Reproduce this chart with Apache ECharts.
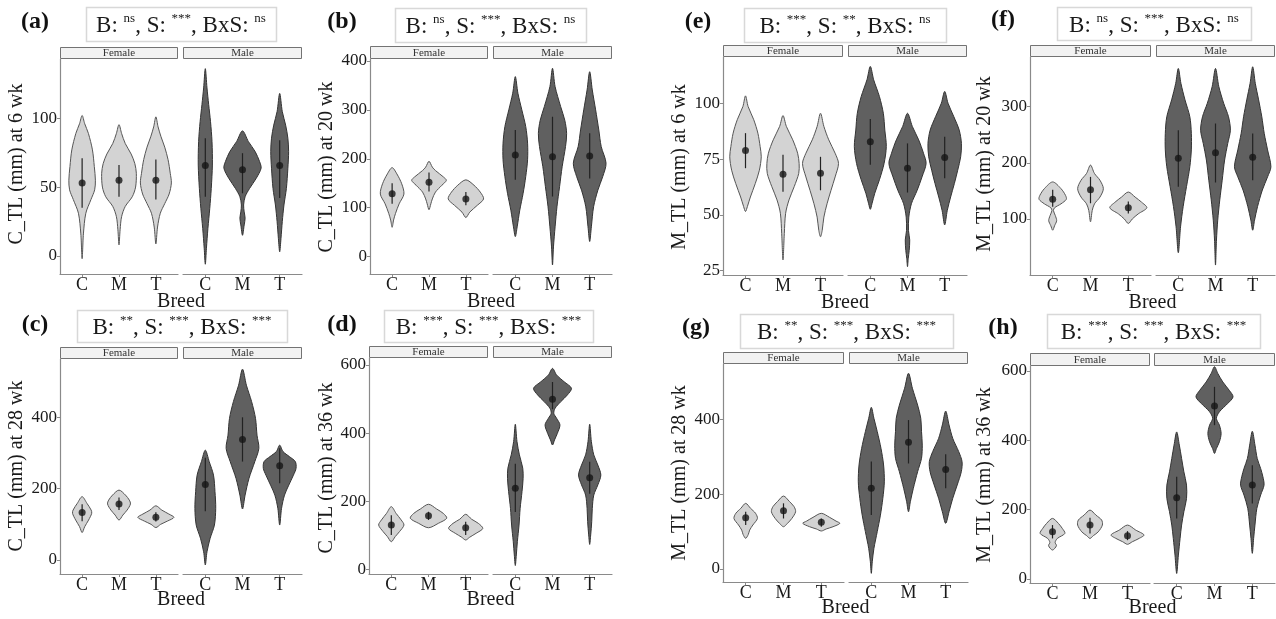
<!DOCTYPE html>
<html>
<head>
<meta charset="utf-8">
<script src="https://cdn.jsdelivr.net/npm/echarts@6/dist/echarts.min.js"></script>
<style>
  html, body { margin: 0; padding: 0; background: #fff; }
  #main { width: 1276px; height: 619px; }
</style>
</head>
<body>
<div id="main"></div>
<script>
// ---- data ----
const breeds = ['C', 'M', 'T'];
const sexes = ['Female', 'Male'];

// violin outlines: [value, half width as share of one category step], from bottom tip to top tip
// (a) C_TL 6 wk
const ticksA = [0, 50, 100];
const rangeA = [-13.1, 143];
const violinA_F = [
  [[-2,0],[16,0.035],[31,0.1],[41,0.24],[48,0.34],[55,0.36],[65,0.33],[77,0.28],[89,0.17],[96,0.07],[102,0]],
  [[8,0],[19,0.03],[28.5,0.07],[36,0.17],[43,0.36],[50,0.45],[60,0.47],[67,0.43],[74,0.33],[81.6,0.17],[89,0.07],[95.4,0]],
  [[8.7,0],[21,0.045],[31,0.12],[38,0.24],[45,0.36],[53,0.42],[60,0.39],[70,0.33],[79,0.24],[86.5,0.14],[93.7,0.06],[101,0]]
];
const violinA_M = [
  [[-6,0],[5.6,0.03],[20,0.07],[34.6,0.12],[49,0.16],[66,0.19],[83,0.18],[97.5,0.14],[110,0.09],[122,0.045],[136,0]],
  [[15,0],[22.5,0.045],[27.4,0.07],[32,0.045],[37,0.03],[43,0.07],[49,0.19],[56.4,0.37],[63.7,0.5],[68.5,0.46],[75.8,0.34],[83,0.16],[90.8,0]],
  [[3,0],[12.8,0.035],[25,0.07],[37,0.115],[49,0.18],[63.7,0.22],[75.7,0.24],[85.5,0.22],[95,0.16],[104.8,0.07],[118,0]]
];
const meanA_F = [53, 55, 55];
const meanA_M = [65.6, 62.5, 65.6];
const barA_F = [[35, 71], [43, 66], [41, 70]];
const barA_M = [[43, 85.5], [45.5, 74.6], [42, 84]];

// (b) C_TL 20 wk
const ticksB = [0, 100, 200, 300, 400];
const rangeB = [-35.4, 404];
const violinB_F = [
  [[60,0],[75,0.04],[88,0.09],[108,0.19],[128,0.32],[149,0.26],[169,0.13],[182,0]],
  [[96,0],[108,0.05],[118,0.09],[132,0.175],[146,0.35],[156,0.47],[163,0.39],[176,0.175],[183,0.09],[195,0]],
  [[80,0],[91,0.105],[105,0.31],[118,0.48],[132,0.39],[146,0.22],[157,0]]
];
const violinB_M = [
  [[41,0],[61,0.05],[95,0.12],[129.5,0.21],[163.5,0.28],[198,0.33],[232,0.33],[266,0.28],[300,0.175],[334,0.07],[368,0]],
  [[-17,0],[20,0.026],[61,0.07],[102,0.12],[143,0.19],[184,0.26],[225,0.35],[252,0.38],[279,0.33],[306.6,0.22],[347.5,0.07],[385,0]],
  [[31,0],[61,0.045],[102,0.105],[136,0.22],[163.5,0.35],[191,0.44],[225,0.31],[259,0.245],[300,0.16],[340.7,0.07],[378,0]]
];
const meanB_F = [128.6, 152.3, 118];
const meanB_M = [208, 204, 206];
const barB_F = [[108, 150], [133, 172], [105, 132]];
const barB_M = [[157, 259], [123, 286], [160, 252]];

// (c) C_TL 28 wk
const ticksC = [0, 200, 400];
const rangeC = [-39.2, 563.5];
const violinC_F = [
  [[77,0],[93.5,0.07],[112,0.175],[131,0.26],[140,0.245],[159,0.13],[177.6,0]],
  [[112,0],[126,0.105],[140,0.22],[157,0.31],[168,0.28],[182,0.175],[196,0]],
  [[91,0],[100,0.13],[109,0.31],[119.6,0.49],[129,0.35],[140,0.16],[152,0]]
];
const violinC_M = [
  [[-14,0],[23,0.045],[61,0.13],[98,0.245],[145,0.28],[191.6,0.26],[238,0.22],[275.7,0.105],[308,0]],
  [[143,0],[182,0.07],[229,0.175],[275.7,0.33],[313,0.44],[350,0.39],[397,0.35],[444,0.245],[490,0.105],[535,0]],
  [[98,0],[145,0.05],[182,0.13],[210,0.245],[238,0.37],[257,0.44],[276,0.42],[290,0.26],[304,0.09],[322,0]]
];
const meanC_F = [133, 157, 120];
const meanC_M = [212, 338, 264.5];
const barC_F = [[109, 156], [140, 175], [108, 134]];
const barC_M = [[137, 287], [276, 400], [215, 313]];

// (d) C_TL 36 wk
const ticksD = [0, 200, 400, 600];
const rangeD = [-13.8, 620.5];
const violinD_F = [
  [[81,0],[96,0.105],[110.6,0.22],[130,0.34],[145,0.265],[164,0.13],[184,0]],
  [[122,0],[135,0.265],[150,0.49],[164,0.4],[177,0.22],[191,0]],
  [[86,0],[94,0.105],[105.7,0.28],[120,0.46],[135,0.34],[147,0.16],[161.5,0]]
];
const violinD_M = [
  [[11,0],[42,0.027],[81,0.055],[130,0.1],[179,0.13],[228,0.18],[267,0.21],[297,0.2],[336,0.11],[375,0.045],[426,0]],
  [[365,0],[380,0.055],[399,0.13],[424,0.2],[443.5,0.11],[458,0.035],[473,0.07],[492,0.22],[512,0.4],[531.6,0.51],[551,0.31],[570.6,0.11],[590,0]],
  [[73,0],[101,0.027],[140,0.055],[179,0.07],[218,0.11],[248,0.22],[277,0.3],[306,0.22],[336,0.11],[375,0.045],[426,0]]
];
const meanD_F = [130, 157.6, 122];
const meanD_M = [238, 499, 269];
const barD_F = [[101, 159], [145, 169], [101, 140]];
const barD_M = [[168, 310], [470, 550], [222, 316]];

// (e) M_TL 6 wk
const ticksE = [25, 50, 75, 100];
const rangeE = [23.07, 120.7];
const violinE_F = [
  [[51.5,0],[53.7,0.05],[58,0.13],[64,0.26],[70,0.37],[76,0.42],[80.6,0.39],[86.6,0.33],[92.6,0.22],[98.5,0.07],[103.3,0]],
  [[29.8,0],[41.7,0.035],[50.7,0.07],[56.7,0.16],[62.7,0.3],[68.6,0.42],[73,0.43],[77.6,0.39],[83.6,0.26],[89.6,0.09],[94.5,0]],
  [[40.2,0],[43,0.045],[49,0.09],[55,0.175],[61,0.28],[67,0.39],[73,0.48],[77.6,0.39],[83.6,0.22],[89.6,0.09],[95.5,0]]
];
const violinE_M = [
  [[52.5,0],[55,0.045],[59.7,0.12],[65.7,0.245],[73,0.37],[80.6,0.43],[88,0.39],[95.5,0.35],[103,0.245],[110.5,0.09],[116.5,0]],
  [[26.8,0],[30.5,0.02],[34,0.045],[38.8,0.06],[43,0.026],[49,0.035],[55,0.105],[61,0.26],[67,0.39],[73,0.5],[77.6,0.43],[83.6,0.3],[89.6,0.13],[95.5,0]],
  [[45.5,0],[52,0.07],[58,0.16],[64,0.26],[70,0.35],[76,0.43],[82,0.45],[88,0.39],[94,0.245],[100,0.09],[105.3,0]]
];
const meanE_F = [78.8, 68.2, 68.6];
const meanE_M = [82.8, 70.9, 75.7];
const barE_F = [[70.9, 86.6], [60.4, 76.9], [61, 76]];
const barE_M = [[72.4, 92.9], [60, 82], [66.4, 85]];

// (f) M_TL 20 wk
const ticksF = [100, 200, 300];
const rangeF = [0.3, 388.4];
const violinF_F = [
  [[80,0],[88,0.05],[97,0.105],[106,0.07],[115,0.02],[120,0.05],[127,0.22],[135,0.36],[142,0.34],[154,0.22],[166,0]],
  [[95,0],[115,0.045],[127,0.105],[139,0.25],[154,0.34],[169,0.25],[181,0.105],[196,0]],
  [[92,0],[100,0.105],[109,0.26],[120,0.49],[130,0.35],[139,0.18],[148,0]]
];
const violinF_M = [
  [[40,0],[86,0.06],[122,0.13],[157.6,0.22],[193,0.31],[223,0.35],[252.5,0.35],[282,0.31],[312,0.18],[341.5,0.07],[368,0]],
  [[18,0],[62.6,0.026],[98,0.06],[134,0.115],[169,0.18],[205,0.245],[234.7,0.33],[258,0.4],[282,0.35],[306,0.22],[335.6,0.09],[368,0]],
  [[80,0],[98,0.05],[122,0.13],[151.6,0.26],[175,0.4],[193,0.49],[223,0.4],[252.5,0.31],[282,0.245],[312,0.16],[341.5,0.07],[371,0]]
];
const meanF_F = [135, 152, 120];
const meanF_M = [208, 218, 210];
const barF_F = [[122, 152], [128, 175], [110, 131]];
const barF_M = [[157.6, 258], [165, 270], [169, 252]];

// (g) M_TL 28 wk
const ticksG = [0, 200, 400];
const rangeG = [-34.7, 547.8];
const violinG_F = [
  [[82,0],[92.6,0.07],[104,0.105],[117.6,0.19],[135,0.31],[149,0.26],[162,0.13],[175.5,0]],
  [[113,0],[122,0.105],[135,0.22],[153,0.32],[166.6,0.28],[180,0.16],[195,0]],
  [[101.6,0],[107,0.13],[113,0.31],[122,0.49],[128,0.39],[138,0.22],[148.8,0]]
];
const violinG_M = [
  [[-11.6,0],[19.6,0.026],[55,0.07],[100,0.16],[144,0.245],[189,0.31],[233,0.35],[278,0.33],[322.5,0.26],[367,0.16],[402.7,0.07],[432,0]],
  [[153,0],[180,0.05],[215.6,0.13],[260,0.245],[296,0.35],[331,0.37],[367,0.35],[402.7,0.33],[438,0.245],[483,0.105],[523,0]],
  [[122,0],[153,0.09],[189,0.19],[224.5,0.31],[260,0.42],[287,0.44],[313.6,0.35],[349,0.19],[385,0.09],[422,0]]
];
const meanG_F = [137, 156, 124.7];
const meanG_M = [215.6, 338.5, 266];
const barG_F = [[117.6, 153], [135, 175.5], [113, 135]];
const barG_M = [[144, 287], [282, 398], [215.6, 306.5]];

// (h) M_TL 36 wk
const ticksH = [0, 200, 400, 600];
const rangeH = [-11.5, 614];
const violinH_F = [
  [[83.5,0],[96,0.105],[105.6,0.07],[117,0.13],[131.5,0.33],[146,0.26],[160,0.16],[174.7,0]],
  [[117,0],[125,0.09],[136,0.22],[155.5,0.33],[170,0.31],[184,0.16],[198.7,0]],
  [[100,0],[107.5,0.13],[117,0.31],[127,0.44],[141,0.22],[155.5,0]]
];
const violinH_M = [
  [[16,0],[69,0.045],[117,0.09],[155.5,0.13],[194,0.19],[232,0.26],[270.7,0.26],[309,0.19],[347.5,0.13],[386,0.07],[424,0]],
  [[362,0],[376,0.05],[395.5,0.13],[419.5,0.175],[443.5,0.13],[463,0.05],[482,0.13],[506,0.35],[525,0.49],[544,0.39],[568,0.22],[592,0.09],[612,0]],
  [[74,0],[117,0.035],[155.5,0.07],[203.5,0.12],[242,0.22],[270.7,0.31],[294.7,0.28],[318.7,0.22],[347.5,0.13],[386,0.07],[426,0]]
];
const meanH_F = [136, 155.5, 124.8];
const meanH_M = [234, 499, 270.7];
const barH_F = [[117, 155.5], [131.5, 176.6], [112, 138]];
const barH_M = [[174.7, 294.7], [443.5, 554], [218, 328]];

// ---- panels: text + where they sit ----
const panels = [
  { tag: '(a)', ytitle: 'C_TL (mm) at 6 wk',  sig: ['ns', '***', 'ns'],  ticks: ticksA, range: rangeA,
    F: [violinA_F, meanA_F, barA_F], M: [violinA_M, meanA_M, barA_M],
    pos: { fL: 60, fR: 178, mL: 183, mR: 302, top: 59, bottom: 274, strip: 47,
           tag: [35, 22], box: [86, 7, 276, 41], yt: [17, 164], breedY: 302 } },
  { tag: '(b)', ytitle: 'C_TL (mm) at 20 wk', sig: ['ns', '***', 'ns'],  ticks: ticksB, range: rangeB,
    F: [violinB_F, meanB_F, barB_F], M: [violinB_M, meanB_M, barB_M],
    pos: { fL: 370, fR: 488, mL: 493, mR: 612, top: 59, bottom: 274, strip: 46,
           tag: [342, 22], box: [395, 8, 586, 42], yt: [327, 167], breedY: 302 } },
  { tag: '(c)', ytitle: 'C_TL (mm) at 28 wk', sig: ['**', '***', '***'], ticks: ticksC, range: rangeC,
    F: [violinC_F, meanC_F, barC_F], M: [violinC_M, meanC_M, barC_M],
    pos: { fL: 60, fR: 178, mL: 183, mR: 302, top: 359, bottom: 574, strip: 347,
           tag: [35, 325], box: [77, 310, 287, 342], yt: [17, 466], breedY: 600 } },
  { tag: '(d)', ytitle: 'C_TL (mm) at 36 wk', sig: ['***', '***', '***'], ticks: ticksD, range: rangeD,
    F: [violinD_F, meanD_F, barD_F], M: [violinD_M, meanD_M, barD_M],
    pos: { fL: 369, fR: 488, mL: 493, mR: 612, top: 358, bottom: 574, strip: 346,
           tag: [342, 325], box: [384, 310, 593, 342], yt: [327, 468], breedY: 600 } },
  { tag: '(e)', ytitle: 'M_TL (mm) at 6 wk',  sig: ['***', '**', 'ns'],  ticks: ticksE, range: rangeE,
    F: [violinE_F, meanE_F, barE_F], M: [violinE_M, meanE_M, barE_M],
    pos: { fL: 723, fR: 843, mL: 848, mR: 967, top: 57, bottom: 275, strip: 45,
           tag: [698, 22], box: [744, 8, 946, 42], yt: [680, 167], breedY: 303 } },
  { tag: '(f)', ytitle: 'M_TL (mm) at 20 wk', sig: ['ns', '***', 'ns'],  ticks: ticksF, range: rangeF,
    F: [violinF_F, meanF_F, barF_F], M: [violinF_M, meanF_M, barF_M],
    pos: { fL: 1030, fR: 1151, mL: 1156, mR: 1275, top: 57, bottom: 275, strip: 45,
           tag: [1003, 20], box: [1057, 7, 1251, 40], yt: [985, 164], breedY: 303 } },
  { tag: '(g)', ytitle: 'M_TL (mm) at 28 wk', sig: ['**', '***', '***'], ticks: ticksG, range: rangeG,
    F: [violinG_F, meanG_F, barG_F], M: [violinG_M, meanG_M, barG_M],
    pos: { fL: 723, fR: 844, mL: 849, mR: 968, top: 364, bottom: 582, strip: 352,
           tag: [696, 328], box: [740, 314, 953, 348], yt: [680, 473], breedY: 608 } },
  { tag: '(h)', ytitle: 'M_TL (mm) at 36 wk', sig: ['***', '***', '***'], ticks: ticksH, range: rangeH,
    F: [violinH_F, meanH_F, barH_F], M: [violinH_M, meanH_M, barH_M],
    pos: { fL: 1030, fR: 1150, mL: 1154, mR: 1275, top: 366, bottom: 583, strip: 353,
           tag: [1003, 328], box: [1047, 314, 1260, 348], yt: [985, 475], breedY: 608 } }
];

const FONT = 'Liberation Serif';
const AXIS = '#8a8a8a';
const TXT = '#1a1a1a';
const FILL = ['#d3d3d3', '#606060'];
const EDGE = ['#555555', '#333333'];

function violinItem(profiles, fill, edge) {
  return function (params, api) {
    const x = api.value(0);
    const prof = profiles[params.dataIndex];
    const step = api.size([1, 0])[0];
    const right = [], left = [];
    prof.forEach(function (p, k) {
      const c = api.coord([x, p[0]]);
      right.push([c[0] + p[1] * step, c[1]]);
      if (k > 0 && k < prof.length - 1) left.push([c[0] - p[1] * step, c[1]]);
    });
    return {
      type: 'polygon',
      shape: { points: right.concat(left.reverse()), smooth: 0.3 },
      style: { fill: fill, stroke: edge, lineWidth: 1 }
    };
  };
}

function barItem(params, api) {
  const a = api.coord([api.value(0), api.value(1)]);
  const b = api.coord([api.value(0), api.value(2)]);
  return {
    type: 'line',
    shape: { x1: a[0], y1: a[1], x2: b[0], y2: b[1] },
    style: { stroke: '#222', lineWidth: 1.2 }
  };
}

const option = { animation: false, grid: [], xAxis: [], yAxis: [], series: [], graphic: [] };

panels.forEach(function (p) {
  const P = p.pos;
  [p.F, p.M].forEach(function (d, k) {
    const gi = option.grid.length;
    const left = k ? P.mL : P.fL;
    const right = k ? P.mR : P.fR;
    option.grid.push({ left: left, top: P.top, width: right - left, height: P.bottom - P.top });
    option.xAxis.push({
      type: 'value', gridIndex: gi, min: 0.4, max: 3.6,
      splitLine: { show: false },
      axisLine: { onZero: false, lineStyle: { color: AXIS, width: 1.2 } },
      axisTick: { customValues: [1, 2, 3], length: 3, lineStyle: { color: AXIS } },
      axisLabel: { customValues: [1, 2, 3], formatter: function (v) { return breeds[Math.round(v) - 1]; },
                   fontFamily: FONT, fontSize: 18, color: TXT, margin: 2 }
    });
    option.yAxis.push({
      type: 'value', gridIndex: gi, min: p.range[0], max: p.range[1],
      splitLine: { show: false },
      axisLine: { show: !k, onZero: false, lineStyle: { color: AXIS, width: 1.2 } },
      axisTick: { show: !k, customValues: p.ticks, length: 3, lineStyle: { color: AXIS } },
      axisLabel: { show: !k, customValues: p.ticks, fontFamily: FONT, fontSize: 17, color: TXT, margin: 3 }
    });
    const violins = d[0], means = d[1], bars = d[2];
    option.series.push({
      type: 'custom', xAxisIndex: gi, yAxisIndex: gi, silent: true, z: 2,
      renderItem: violinItem(violins, FILL[k], EDGE[k]),
      data: means.map(function (m, i) { return [i + 1, m]; })
    });
    option.series.push({
      type: 'custom', xAxisIndex: gi, yAxisIndex: gi, silent: true, z: 3,
      renderItem: barItem,
      data: bars.map(function (b, i) { return [i + 1, b[0], b[1]]; })
    });
    option.series.push({
      type: 'scatter', xAxisIndex: gi, yAxisIndex: gi, silent: true, z: 4,
      symbolSize: 7, itemStyle: { color: '#151515' },
      data: means.map(function (m, i) { return [i + 1, m]; })
    });
    // facet strip
    option.graphic.push({
      type: 'rect', shape: { x: left + 0.5, y: P.strip + 0.5, width: right - left - 1, height: P.top - P.strip - 1 },
      style: { fill: '#f2f2f2', stroke: '#737373', lineWidth: 1 }
    });
    option.graphic.push({
      type: 'text', x: (left + right) / 2, y: (P.strip + P.top) / 2 + 0.5,
      style: { text: sexes[k], font: '11px "' + FONT + '"', fill: '#333', align: 'center', verticalAlign: 'middle' }
    });
  });
  // title box with significance marks
  const bx = P.box;
  option.graphic.push({
    type: 'rect', shape: { x: bx[0] + 0.5, y: bx[1] + 0.5, width: bx[2] - bx[0], height: bx[3] - bx[1] },
    style: { fill: '#fff', stroke: '#d8d8d8', lineWidth: 1.5 }
  });
  option.graphic.push({
    type: 'text', x: (bx[0] + bx[2]) / 2, y: (bx[1] + bx[3]) / 2 + 1,
    style: {
      text: '{n|B: }{s|' + p.sig[0] + '}{n|, S: }{s|' + p.sig[1] + '}{n|, BxS: }{s|' + p.sig[2] + '}',
      align: 'center', verticalAlign: 'middle',
      rich: {
        n: { fontFamily: FONT, fontSize: 23, fill: TXT, lineHeight: 25, verticalAlign: 'bottom' },
        s: { fontFamily: FONT, fontSize: 13, fill: TXT, lineHeight: 25, verticalAlign: 'top' }
      }
    }
  });
  option.graphic.push({
    type: 'text', x: P.tag[0], y: P.tag[1],
    style: { text: p.tag, font: 'bold 24px "' + FONT + '"', fill: '#111', align: 'center', verticalAlign: 'middle' }
  });
  option.graphic.push({
    type: 'text', x: P.yt[0], y: P.yt[1], rotation: Math.PI / 2,
    style: { text: p.ytitle, font: '20px "' + FONT + '"', fill: TXT, align: 'center', verticalAlign: 'middle' }
  });
  option.graphic.push({
    type: 'text', x: (P.fL + P.mR) / 2, y: P.breedY,
    style: { text: 'Breed', font: '20px "' + FONT + '"', fill: TXT, align: 'center', verticalAlign: 'middle' }
  });
});

const chart = echarts.init(document.getElementById('main'), null, { renderer: 'canvas' });
chart.setOption(option);
window.addEventListener('resize', function () { chart.resize(); });
</script>
</body>
</html>
